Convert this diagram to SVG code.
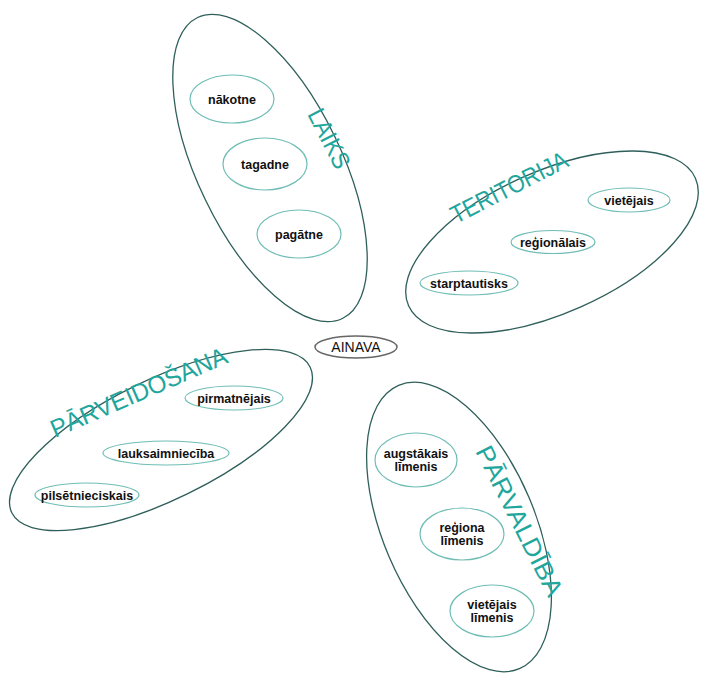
<svg xmlns="http://www.w3.org/2000/svg" width="707" height="682" viewBox="0 0 707 682">
<style>
.outer{fill:none;stroke:#2f5f5a;stroke-width:1.3}
.inner{fill:none;stroke:#6fbdb5;stroke-width:1.2}
.lbl{font-family:"Liberation Sans",Arial,sans-serif;font-weight:bold;font-size:12.5px;fill:#111;text-anchor:middle}
.ttl{font-family:"Liberation Sans",Arial,sans-serif;font-size:25px;fill:#1fa69d}
.core{fill:none;stroke:#666;stroke-width:1.5}
.coret{font-family:"Liberation Sans",Arial,sans-serif;font-size:14px;fill:#111;text-anchor:middle}
</style>
<rect width="707" height="682" fill="#fff"/>
<g id="connectors"></g>
<g id="ainava">
<ellipse class="core" cx="356" cy="347" rx="41" ry="11"/>
<text class="coret" x="356" y="352">AINAVA</text>
</g>
<g id="laiks">
<ellipse class="outer" cx="270" cy="168" rx="167" ry="72" transform="rotate(64.3 270 168)"/>
<text class="ttl" x="307" y="114" textLength="64" lengthAdjust="spacingAndGlyphs" transform="rotate(63 307 114)">LAIKS</text>
<g id="nakotne"><ellipse class="inner" cx="232" cy="99" rx="42" ry="24"/><text class="lbl" x="232" y="104">nākotne</text></g>
<g id="tagadne"><ellipse class="inner" cx="265" cy="164" rx="42" ry="26"/><text class="lbl" x="265" y="169">tagadne</text></g>
<g id="pagatne"><ellipse class="inner" cx="299" cy="234" rx="42" ry="24"/><text class="lbl" x="299" y="239">pagātne</text></g>
</g>
<g id="teritorija">
<ellipse class="outer" cx="552" cy="242" rx="157" ry="71" transform="rotate(-24 552 242)"/>
<text class="ttl" x="456" y="224" textLength="128" lengthAdjust="spacingAndGlyphs" transform="rotate(-27 456 224)">TERITORIJA</text>
<g id="vietejais"><ellipse class="inner" cx="629" cy="200" rx="41" ry="12"/><text class="lbl" x="629" y="205">vietējais</text></g>
<g id="regionalais"><ellipse class="inner" cx="553" cy="242" rx="42" ry="11.5"/><text class="lbl" x="553" y="247">reģionālais</text></g>
<g id="starptautisks"><ellipse class="inner" cx="469" cy="283" rx="49" ry="12"/><text class="lbl" x="469" y="288">starptautisks</text></g>
</g>
<g id="parveidosana">
<ellipse class="outer" cx="161" cy="440" rx="166" ry="60" transform="rotate(-26 161 440)"/>
<text class="ttl" x="55" y="438" textLength="190" lengthAdjust="spacingAndGlyphs" transform="rotate(-23.5 55 438)">PĀRVEIDOŠANA</text>
<g id="pirmatnejais"><ellipse class="inner" cx="234" cy="398" rx="49" ry="12"/><text class="lbl" x="234" y="403">pirmatnējais</text></g>
<g id="lauksaimnieciba"><ellipse class="inner" cx="166" cy="453" rx="63" ry="12"/><text class="lbl" x="166" y="458">lauksaimniecība</text></g>
<g id="pilsetnieciskais"><ellipse class="inner" cx="87" cy="495" rx="52" ry="12"/><text class="lbl" x="87" y="500">pilsētnieciskais</text></g>
</g>
<g id="parvaldiba">
<ellipse class="outer" cx="459" cy="527" rx="154" ry="76" transform="rotate(66.9 459 527)"/>
<text class="ttl" x="475" y="451" textLength="165" lengthAdjust="spacingAndGlyphs" transform="rotate(63.5 475 451)">PĀRVALDĪBA</text>
<g id="augstakais"><ellipse class="inner" cx="416" cy="460" rx="41" ry="27"/><text class="lbl" x="416" y="458">augstākais</text><text class="lbl" x="416" y="471">līmenis</text></g>
<g id="regiona"><ellipse class="inner" cx="462" cy="534" rx="42" ry="26"/><text class="lbl" x="462" y="532">reģiona</text><text class="lbl" x="462" y="545">līmenis</text></g>
<g id="vietejaislim"><ellipse class="inner" cx="492" cy="611" rx="42" ry="26"/><text class="lbl" x="492" y="609">vietējais</text><text class="lbl" x="492" y="622">līmenis</text></g>
</g>
</svg>
